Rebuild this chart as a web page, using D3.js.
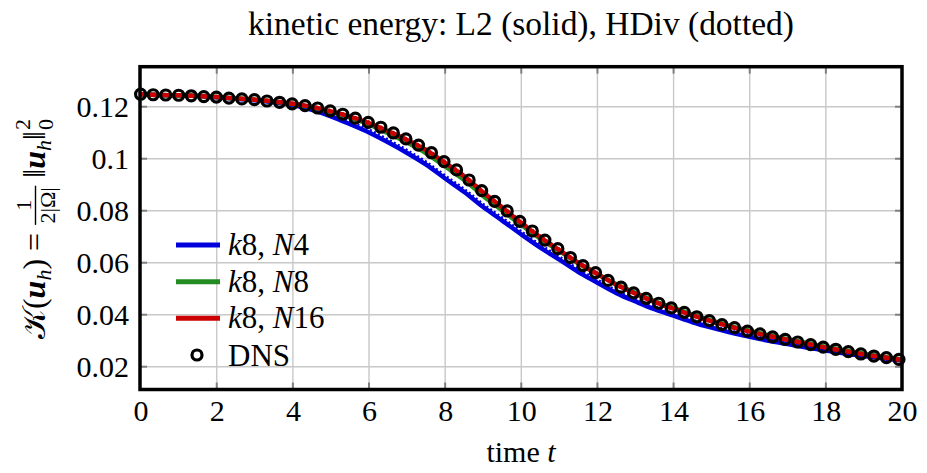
<!DOCTYPE html>
<html>
<head>
<meta charset="utf-8">
<script src="https://cdn.jsdelivr.net/npm/d3@7"></script>
<style>
  body { margin: 0; background: #fff; }
  svg { display: block; }
</style>
</head>
<body>
<div id="chart"></div>
<script>
// DNS reference points
var dnsTime = [0, 0.33, 0.66, 1.0, 1.33, 1.66, 1.99, 2.32, 2.66, 2.99, 3.32, 3.65, 3.98, 4.32, 4.65, 4.98,
  5.31, 5.64, 5.98, 6.31, 6.64, 6.97, 7.30, 7.64, 7.97, 8.30, 8.63, 8.96, 9.30, 9.63, 9.96, 10.29,
  10.62, 10.96, 11.29, 11.62, 11.95, 12.28, 12.62, 12.95, 13.28, 13.61, 13.94, 14.28, 14.61, 14.94,
  15.27, 15.60, 15.94, 16.27, 16.60, 16.93, 17.26, 17.60, 17.93, 18.26, 18.59, 18.92, 19.26, 19.59, 19.92];
var dnsEnergy = [0.1248, 0.1246, 0.1245, 0.1244, 0.1242, 0.1239, 0.1237, 0.1233, 0.1230, 0.1227, 0.1222,
  0.1217, 0.1211, 0.1204, 0.1195, 0.1184, 0.1171, 0.1156, 0.1140, 0.1121, 0.1099, 0.1076, 0.1052, 0.1023,
  0.0989, 0.0957, 0.0918, 0.0877, 0.0836, 0.0799, 0.0759, 0.0722, 0.0687, 0.0654, 0.0620, 0.0589, 0.0562,
  0.0532, 0.0506, 0.0484, 0.0463, 0.0444, 0.0426, 0.0409, 0.0392, 0.0377, 0.0362, 0.0350, 0.0337, 0.0326,
  0.0315, 0.0305, 0.0295, 0.0285, 0.0275, 0.0267, 0.0258, 0.0249, 0.0241, 0.0235, 0.0228];

// simulation output times
var simTime = [0, 0.5, 1, 1.5, 2, 2.5, 3, 3.5, 4, 4.5, 5, 5.5, 6, 6.5, 7, 7.5, 8, 8.5, 9, 9.5, 10,
  10.5, 11, 11.5, 12, 12.5, 13, 13.5, 14, 14.5, 15, 15.5, 16, 16.5, 17, 17.5, 18, 18.5, 19, 19.5, 20];

var k8N4L2 = [0.1248, 0.1245, 0.1244, 0.1241, 0.1236, 0.1231, 0.1225, 0.1217, 0.1206, 0.1188, 0.1163,
  0.1133, 0.1101, 0.1063, 0.1022, 0.0977, 0.0924, 0.0872, 0.0814, 0.0762, 0.0709, 0.0658, 0.0612, 0.0564,
  0.0523, 0.0483, 0.0451, 0.0421, 0.0396, 0.0371, 0.0350, 0.0331, 0.0315, 0.0300, 0.0287, 0.0274, 0.0262,
  0.0251, 0.0241, 0.0232, 0.0224];
var k8N4HDiv = [0.1248, 0.1245, 0.1244, 0.1241, 0.1236, 0.1231, 0.1226, 0.1218, 0.1208, 0.1192, 0.1169,
  0.1140, 0.1109, 0.1071, 0.1030, 0.0985, 0.0932, 0.0880, 0.0822, 0.0770, 0.0717, 0.0666, 0.0620, 0.0572,
  0.0531, 0.0491, 0.0459, 0.0429, 0.0403, 0.0377, 0.0355, 0.0336, 0.0319, 0.0304, 0.0291, 0.0277, 0.0265,
  0.0254, 0.0243, 0.0234, 0.0225];
var k8N8L2 = [0.1248, 0.1245, 0.1244, 0.1241, 0.1237, 0.1232, 0.1227, 0.1220, 0.1210, 0.1198, 0.1180,
  0.1158, 0.1132, 0.1098, 0.1062, 0.1021, 0.0970, 0.0918, 0.0857, 0.0801, 0.0745, 0.0692, 0.0645, 0.0597,
  0.0557, 0.0517, 0.0484, 0.0452, 0.0426, 0.0400, 0.0377, 0.0356, 0.0338, 0.0321, 0.0306, 0.0291, 0.0276,
  0.0263, 0.0250, 0.0238, 0.0228];
var k8N8HDiv = [0.1248, 0.1245, 0.1244, 0.1241, 0.1237, 0.1232, 0.1227, 0.1220, 0.1211, 0.1199, 0.1181,
  0.1160, 0.1135, 0.1103, 0.1068, 0.1028, 0.0978, 0.0926, 0.0864, 0.0807, 0.0750, 0.0696, 0.0648, 0.0599,
  0.0557, 0.0516, 0.0483, 0.0451, 0.0425, 0.0399, 0.0376, 0.0355, 0.0337, 0.0320, 0.0305, 0.0290, 0.0275,
  0.0262, 0.0249, 0.0237, 0.0227];
var k8N16L2 = [0.1248, 0.1245, 0.1244, 0.1241, 0.1237, 0.1232, 0.1227, 0.1220, 0.1211, 0.1199, 0.1182,
  0.1162, 0.1137, 0.1106, 0.1072, 0.1033, 0.0984, 0.0932, 0.0870, 0.0812, 0.0753, 0.0698, 0.0648, 0.0599,
  0.0556, 0.0515, 0.0481, 0.0449, 0.0423, 0.0397, 0.0374, 0.0353, 0.0335, 0.0318, 0.0303, 0.0288, 0.0273,
  0.0260, 0.0247, 0.0236, 0.0226];
var k8N16HDiv = [0.1248, 0.1245, 0.1244, 0.1241, 0.1237, 0.1232, 0.1227, 0.1220, 0.1211, 0.1200, 0.1183,
  0.1163, 0.1139, 0.1108, 0.1074, 0.1035, 0.0986, 0.0934, 0.0872, 0.0814, 0.0755, 0.0700, 0.0650, 0.0600,
  0.0557, 0.0515, 0.0481, 0.0449, 0.0423, 0.0397, 0.0374, 0.0353, 0.0335, 0.0318, 0.0303, 0.0288, 0.0273,
  0.0260, 0.0247, 0.0236, 0.0226];

var xTicks = [0, 2, 4, 6, 8, 10, 12, 14, 16, 18, 20];
var yTicks = [0.02, 0.04, 0.06, 0.08, 0.1, 0.12];
var yTickLabels = ["0.02", "0.04", "0.06", "0.08", "0.1", "0.12"];

var series = [
  {name: "N4",  color: "#0000dc", L2: k8N4L2,  HDiv: k8N4HDiv},
  {name: "N8",  color: "#228b22", L2: k8N8L2,  HDiv: k8N8HDiv},
  {name: "N16", color: "#cc0000", L2: k8N16L2, HDiv: k8N16HDiv}
];

(function() {
var width = 927, height = 473;
var pL = 140, pR = 902, pT = 66.7, pB = 389.5;
var serif = "'Liberation Serif'";

var svg = d3.select("#chart").append("svg")
    .attr("width", width)
    .attr("height", height);

var x = d3.scaleLinear().domain([0, 20]).range([140.6, 902]);
var y = d3.scaleLinear().domain([0.02, 0.12]).range([366.7, 106.7]);

// grid
svg.append("g").selectAll("line").data(xTicks.slice(1, -1)).enter().append("line")
    .attr("x1", d => x(d)).attr("x2", d => x(d))
    .attr("y1", pT).attr("y2", pB)
    .attr("stroke", "#c8c8c8").attr("stroke-width", 1.4);
svg.append("g").selectAll("line").data(yTicks).enter().append("line")
    .attr("x1", pL).attr("x2", pR)
    .attr("y1", d => y(d)).attr("y2", d => y(d))
    .attr("stroke", "#c8c8c8").attr("stroke-width", 1.4);

// inner tick marks
var tk = svg.append("g").attr("stroke", "#808080").attr("stroke-width", 2);
xTicks.slice(1, -1).forEach(function(d) {
  tk.append("line").attr("x1", x(d)).attr("x2", x(d)).attr("y1", pT).attr("y2", pT + 7);
  tk.append("line").attr("x1", x(d)).attr("x2", x(d)).attr("y1", pB).attr("y2", pB - 7);
});
yTicks.forEach(function(d) {
  tk.append("line").attr("x1", pL).attr("x2", pL + 7).attr("y1", y(d)).attr("y2", y(d));
  tk.append("line").attr("x1", pR).attr("x2", pR - 7).attr("y1", y(d)).attr("y2", y(d));
});

// lines
svg.append("clipPath").attr("id", "clip").append("rect")
    .attr("x", pL).attr("y", pT).attr("width", pR - pL).attr("height", pB - pT);

var line = d3.line()
    .x(d => x(d[0]))
    .y(d => y(d[1]))
    .curve(d3.curveMonotoneX);

var plot = svg.append("g").attr("clip-path", "url(#clip)");
series.forEach(function(s) {
  plot.append("path")
      .attr("d", line(simTime.map((t, i) => [t, s.L2[i]])))
      .attr("fill", "none").attr("stroke", s.color).attr("stroke-width", 4.5);
  plot.append("path")
      .attr("d", line(simTime.map((t, i) => [t, s.HDiv[i]])))
      .attr("fill", "none").attr("stroke", s.color).attr("stroke-width", 4)
      .attr("stroke-dasharray", "2,2.5");
});

// DNS circles
svg.append("g").selectAll("circle").data(dnsTime).enter().append("circle")
    .attr("cx", d => x(d))
    .attr("cy", (d, i) => y(dnsEnergy[i]))
    .attr("r", 5)
    .attr("fill", "none")
    .attr("stroke", "#000")
    .attr("stroke-width", 3.2);

// frame
svg.append("rect")
    .attr("x", pL).attr("y", pT).attr("width", pR - pL).attr("height", pB - pT)
    .attr("fill", "none").attr("stroke", "#000").attr("stroke-width", 3.5);

// axis labels via d3 axes
var xAxis = svg.append("g")
    .attr("transform", "translate(0," + pB + ")")
    .call(d3.axisBottom(x).tickValues(xTicks).tickSize(0).tickPadding(10).tickFormat(d3.format("d")));
xAxis.select(".domain").remove();
xAxis.attr("font-family", null).attr("font-size", null);
xAxis.selectAll("text").style("font-family", serif).style("font-size", "30px");

var yAxis = svg.append("g")
    .attr("transform", "translate(" + pL + ",0)")
    .call(d3.axisLeft(y).tickValues(yTicks).tickSize(0).tickPadding(11)
      .tickFormat((d, i) => yTickLabels[i]));
yAxis.select(".domain").remove();
yAxis.attr("font-family", null).attr("font-size", null);
yAxis.selectAll("text").style("font-family", serif).style("font-size", "30px");

// title, sized to span the same width as the original
var title = svg.append("text")
    .attr("x", (pL + pR) / 2).attr("y", 35)
    .attr("text-anchor", "middle")
    .style("font-family", serif)
    .style("font-size", "28px")
    .text("kinetic energy: L2 (solid), HDiv (dotted)");
var tw = title.node().getComputedTextLength();
title.style("font-size", Math.min(35, 28 * 546 / tw) + "px");

// x label
var xl = svg.append("text")
    .attr("x", (pL + pR) / 2).attr("y", 462)
    .attr("text-anchor", "middle")
    .style("font-family", serif)
    .style("font-size", "30px");
xl.append("tspan").text("time ");
xl.append("tspan").attr("font-style", "italic").text("t");

// legend
var legRows = [245, 281.7, 318.3];
series.forEach(function(s, i) {
  svg.append("line")
      .attr("x1", 176).attr("x2", 220)
      .attr("y1", legRows[i]).attr("y2", legRows[i])
      .attr("stroke", s.color).attr("stroke-width", 5);
  var t = svg.append("text").attr("x", 228).attr("y", legRows[i] + 10)
      .style("font-family", serif).style("font-size", "31px");
  t.append("tspan").attr("font-style", "italic").text("k");
  t.append("tspan").text("8, ");
  t.append("tspan").attr("font-style", "italic").text("N");
  t.append("tspan").text(s.name.slice(1));
});
svg.append("circle").attr("cx", 197).attr("cy", 355).attr("r", 5)
    .attr("fill", "none").attr("stroke", "#000").attr("stroke-width", 3.2);
svg.append("text").attr("x", 228).attr("y", 366)
    .style("font-family", serif).style("font-size", "31px").text("DNS");

// y label (rotated math), pieces laid out left to right along the rotated baseline
var yl = svg.append("g").attr("transform", "translate(45,229) rotate(-90)");
function piece(xpos, ypos, size) {
  return yl.append("text").attr("x", xpos).attr("y", ypos)
      .style("font-family", serif).style("font-size", size + "px");
}
var p1 = piece(0, 0, 32);
p1.append("tspan").text("𝒦");
p1.append("tspan").text("(");
p1.append("tspan").attr("font-style", "italic").attr("font-weight", "bold").text("u");
p1.append("tspan").attr("font-style", "italic").style("font-size", "22px").attr("dy", 6).text("h");
p1.append("tspan").attr("dy", -6).text(")");
var cx = p1.node().getComputedTextLength() + 8;
var eq = piece(cx, 0, 32).text("=");
cx += eq.node().getComputedTextLength() + 8;

var den = piece(0, 10, 22).attr("text-anchor", "middle").text("2|Ω|");
var fw = den.node().getComputedTextLength() + 3;
den.attr("x", cx + fw / 2);
piece(cx + fw / 2, -14, 22).attr("text-anchor", "middle").text("1");
yl.append("line").attr("x1", cx).attr("x2", cx + fw).attr("y1", -9.5).attr("y2", -9.5)
    .attr("stroke", "#000").attr("stroke-width", 1.4);
cx += fw + 8;

var p2 = piece(cx, 0, 32);
p2.append("tspan").text("‖");
p2.append("tspan").attr("font-style", "italic").attr("font-weight", "bold").text("u");
p2.append("tspan").attr("font-style", "italic").style("font-size", "22px").attr("dy", 6).text("h");
p2.append("tspan").attr("dy", -6).text("‖");
cx += p2.node().getComputedTextLength() + 1;
piece(cx, 8, 22).text("0");
piece(cx, -15, 22).text("2");
cx += 11;

yl.selectAll("text, line").attr("transform", "translate(" + (-cx / 2) + ",0)");
})();
</script>
</body>
</html>
